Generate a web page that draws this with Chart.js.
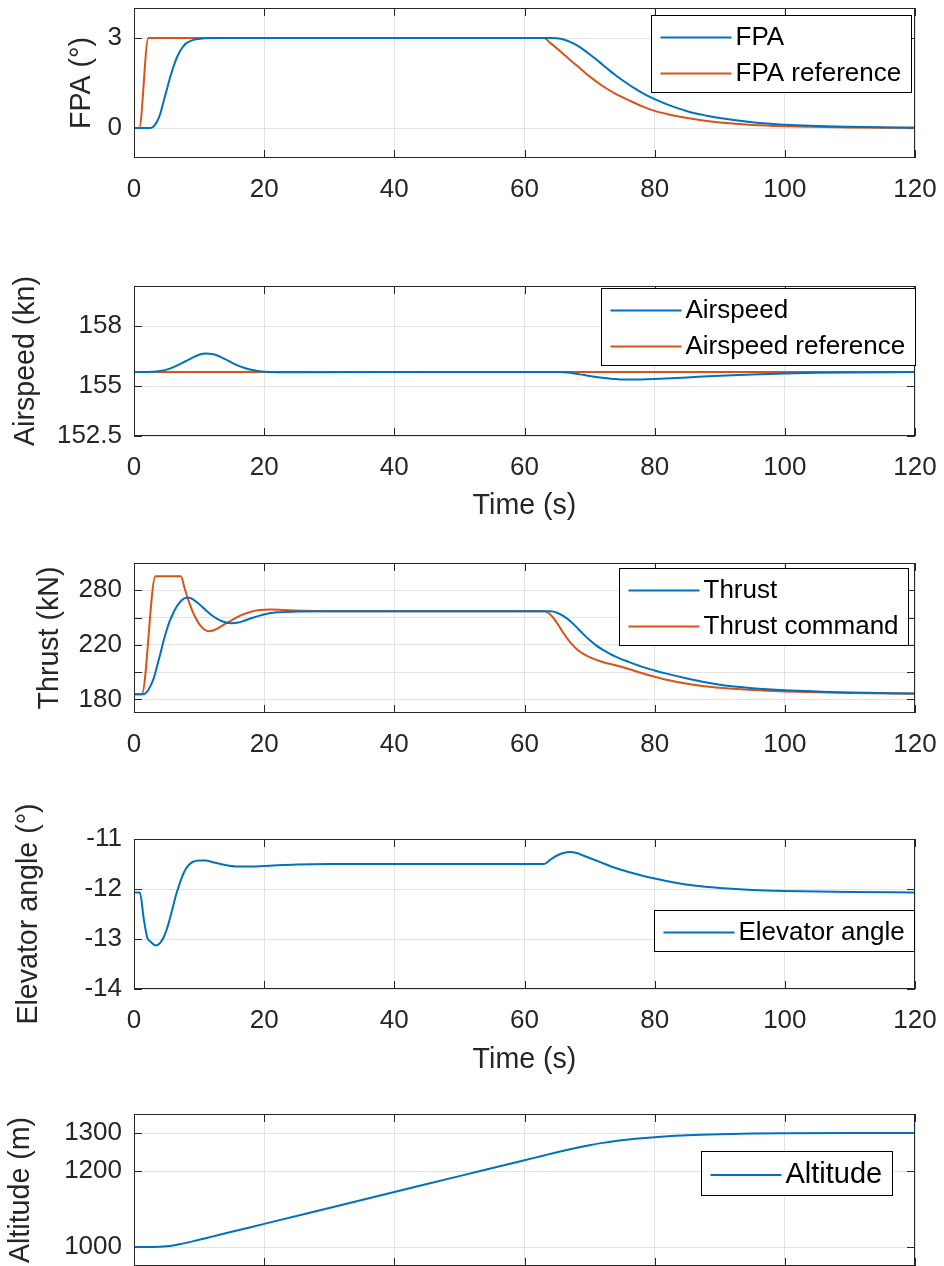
<!DOCTYPE html>
<html lang="en">
<head>
<meta charset="UTF-8">
<title>Climb response</title>
<script src="https://cdn.jsdelivr.net/npm/chart.js"></script>
<style>
  html, body { margin: 0; padding: 0; background: #fff; overflow: hidden; }
  body { width: 944px; height: 1266px; position: relative; }
  canvas { position: absolute; left: 0; }
</style>
</head>
<body>
<canvas id="fpaChart"></canvas>
<canvas id="speedChart"></canvas>
<canvas id="thrustChart"></canvas>
<canvas id="elevChart"></canvas>
<canvas id="altChart"></canvas>

<script>
// shared time axis
const timeTicks = [0, 20, 40, 60, 80, 100, 120];

// flight path angle (deg)
const fpaTime = [0, 2.5, 3, 3.5, 4, 4.5, 5, 5.5, 6, 6.5, 7, 7.5, 8, 9, 10, 11, 13,
  64, 65, 66, 67, 68, 69, 70, 71, 72, 73, 74, 75, 76, 77, 78, 80, 82, 85, 88, 90, 95, 100, 110, 120];
const fpaValues = [0, 0, 0.05, 0.2, 0.45, 0.85, 1.25, 1.65, 2.0, 2.3, 2.53, 2.7, 2.82, 2.93, 2.97, 2.99, 3,
  3, 2.99, 2.95, 2.87, 2.76, 2.62, 2.46, 2.29, 2.11, 1.93, 1.76, 1.6, 1.45, 1.31, 1.18, 0.96, 0.78, 0.56, 0.41, 0.33, 0.19, 0.11, 0.04, 0.01];
const fpaRefTime = [0, 0.8, 2.2, 63, 64, 65, 66, 67, 68, 70, 72, 74, 76, 78, 80, 82, 85, 88, 90, 95, 100, 110, 120];
const fpaRefValues = [0, 0, 3, 3, 2.83, 2.65, 2.46, 2.27, 2.09, 1.72, 1.4, 1.14, 0.93, 0.73, 0.57, 0.46, 0.33, 0.23, 0.18, 0.1, 0.06, 0.02, 0.01];
const fpaTicks = [0, 3];

// airspeed (kn)
const speedTime = [0, 3, 4, 5, 6, 7, 8, 9, 10, 11, 12, 13, 14, 15, 16, 17, 18, 19, 20, 22, 25,
  65, 66, 67, 68, 69, 70, 71, 72, 73, 74, 75, 76, 77, 78, 80, 85, 90, 95, 100, 105, 110, 120];
const speedValues = [155.7, 155.71, 155.75, 155.82, 155.93, 156.08, 156.25, 156.42, 156.56, 156.63, 156.6, 156.5, 156.34, 156.17, 156.02, 155.9, 155.81, 155.75, 155.71, 155.69, 155.69,
  155.7, 155.69, 155.66, 155.61, 155.56, 155.5, 155.45, 155.41, 155.37, 155.35, 155.33, 155.32, 155.32, 155.33, 155.35, 155.43, 155.51, 155.57, 155.62, 155.66, 155.68, 155.7];
const speedRefTime = [0, 120];
const speedRefValues = [155.7, 155.7];
const speedTicks = [152.5, 155, 158];

// thrust (kN)
const thrustTime = [0, 1.4, 2, 2.5, 3, 3.5, 4, 4.5, 5, 5.5, 6, 6.5, 7, 7.5, 8, 8.5, 9, 10, 11, 12, 13, 14, 15, 16, 17, 18, 20, 22, 25, 30,
  64, 65, 66, 67, 68, 69, 70, 71, 72, 73, 74, 76, 78, 80, 82, 85, 88, 90, 95, 100, 110, 120];
const thrustValues = [183.7, 183.7, 185.5, 189.5, 195, 203.5, 212.5, 222, 230.5, 237.5, 243, 247.5, 251, 253.3, 254.5, 254.5, 253.5, 250, 245.5, 241.5, 238.5, 236.5, 235.8, 236.3, 237.8, 239.5, 242.3, 243.8, 244.4, 244.6,
  244.6, 243.5, 241, 237.5, 233, 228, 223.5, 219.6, 216.5, 213.8, 211.4, 207.5, 204, 201.2, 198.7, 195.3, 192.3, 190.7, 188.2, 186.7, 185.1, 184.3];
const thrustCmdTime = [0, 1.2, 3.3, 7.2, 7.8, 8.4, 9, 9.6, 10.2, 10.8, 11.4, 12, 13, 14, 15, 16, 17, 18, 19, 20, 21, 23, 26, 30,
  63, 64, 65, 66, 67, 68, 69, 70, 72, 74, 76, 78, 80, 82, 85, 88, 90, 95, 100, 110, 120];
const thrustCmdValues = [183.7, 183.7, 270.3, 270.3, 261, 252, 244.5, 238.5, 234, 231.2, 230, 230.3, 232.5, 235.3, 238, 240.6, 242.7, 244.3, 245.3, 245.8, 245.9, 245.5, 244.9, 244.6,
  244.6, 242, 236, 228.5, 222, 217, 213.5, 211, 207.4, 205, 202.3, 199.3, 196.6, 194.2, 191.4, 189.4, 188.5, 186.8, 185.8, 184.7, 184.2];
const thrustTicks = [180, 200, 220, 240, 260];
const thrustTickLabels = ['180', '', '220', '', '280'];

// elevator deflection (deg)
const elevTime = [0, 0.9, 1.5, 2.05, 2.5, 3.4, 4.0, 4.5, 5.0, 5.5, 6.0, 6.5, 7.0, 7.5, 8, 8.5, 9, 10, 11, 12, 14, 16, 18, 20, 25, 30,
  63, 64, 65, 66, 67, 68, 69, 70, 72, 74, 76, 78, 80, 83, 86, 90, 95, 100, 110, 120];
const elevValues = [-12.07, -12.07, -12.6, -12.98, -13.05, -13.13, -13.08, -12.98, -12.82, -12.6, -12.35, -12.1, -11.9, -11.72, -11.59, -11.51, -11.46, -11.43, -11.43, -11.46, -11.52, -11.55, -11.55, -11.54, -11.51, -11.5,
  -11.5, -11.41, -11.33, -11.28, -11.26, -11.28, -11.33, -11.38, -11.48, -11.58, -11.66, -11.73, -11.79, -11.87, -11.93, -11.98, -12.02, -12.04, -12.06, -12.07];
const elevTicks = [-14, -13, -12, -11];

// altitude (m)
const altTime = [0, 3, 4, 5, 6, 7, 8, 9, 10, 12, 15, 20, 30, 40, 50, 60, 63, 65, 67, 70, 72, 74, 76, 78, 80, 85, 90, 95, 100, 110, 120];
const altValues = [1000, 1000, 1000.4, 1001.7, 1003.9, 1007.1, 1010.8, 1014.8, 1018.9, 1027.3, 1039.9, 1060.8, 1102.7, 1144.6, 1186.5, 1228.4, 1241, 1249.3, 1257.3, 1268, 1274, 1279, 1283, 1286.3, 1289, 1293.8, 1296.7, 1298.4, 1299.3, 1299.9, 1300];
const altTicks = [1000, 1200, 1300];

const BLUE = '#0072BD';
const ORANGE = '#D95319';
const INK = '#262626';
const GRID = '#e3e3e3';
const FONT = "'Liberation Sans', Arial, Helvetica, sans-serif";

// box, inward tick marks, rotated y label and an in-axes legend
const matlabAxes = {
  id: 'matlabAxes',
  beforeDatasetsDraw(chart) {
    const { ctx, chartArea: a, scales: { x, y } } = chart;
    ctx.save();
    ctx.strokeStyle = INK;
    ctx.lineWidth = 1;
    ctx.beginPath();
    x.ticks.forEach(t => {
      const px = Math.round(x.getPixelForValue(t.value)) + 0.5;
      ctx.moveTo(px, a.bottom); ctx.lineTo(px, a.bottom - 8);
      ctx.moveTo(px, a.top); ctx.lineTo(px, a.top + 8);
    });
    y.ticks.forEach(t => {
      const py = Math.round(y.getPixelForValue(t.value)) + 0.5;
      ctx.moveTo(a.left, py); ctx.lineTo(a.left + 8, py);
      ctx.moveTo(a.right, py); ctx.lineTo(a.right - 8, py);
    });
    ctx.stroke();
    ctx.restore();
  },
  afterDatasetsDraw(chart) {
    const { ctx, chartArea: a } = chart;
    ctx.save();
    ctx.strokeStyle = INK;
    ctx.lineWidth = 1;
    ctx.strokeRect(a.left + 0.5, a.top + 0.5, a.right - a.left - 1, a.bottom - a.top - 1);
    ctx.restore();
  },
  afterDraw(chart, args, opts) {
    const { ctx, chartArea: a } = chart;
    ctx.save();
    ctx.fillStyle = INK;
    ctx.font = '28.6px ' + FONT;
    ctx.textAlign = 'center';
    ctx.textBaseline = 'middle';
    ctx.translate(opts.yTitleX, (a.top + a.bottom) / 2);
    ctx.rotate(-Math.PI / 2);
    ctx.fillText(opts.yTitle, 0, 0);
    ctx.restore();

    const items = chart.data.datasets;
    const fs = opts.legendFont || 26;
    ctx.save();
    ctx.font = fs + 'px ' + FONT;
    const textW = Math.max(...items.map(d => ctx.measureText(d.label).width));
    const bx = opts.legendX + 0.5;
    const by = Math.round(a.top + opts.legendDy) + 0.5;
    const bw = Math.round(84 + textW + 10);
    const bh = items.length * 36 + 5 + (fs - 26);
    ctx.fillStyle = '#fff';
    ctx.fillRect(bx, by, bw, bh);
    ctx.strokeStyle = '#000';
    ctx.lineWidth = 1;
    ctx.strokeRect(bx, by, bw, bh);
    items.forEach((d, i) => {
      const cy = by + 22 + (fs - 26) / 2 + 36 * i;
      ctx.strokeStyle = d.borderColor;
      ctx.lineWidth = 2;
      ctx.beginPath();
      ctx.moveTo(bx + 9, cy);
      ctx.lineTo(bx + 80, cy);
      ctx.stroke();
      ctx.fillStyle = '#000';
      ctx.textAlign = 'left';
      ctx.textBaseline = 'middle';
      ctx.fillText(d.label, bx + 84, cy);
    });
    ctx.restore();
  }
};

function series(label, t, v, color) {
  return {
    label,
    data: t.map((x, i) => ({ x, y: v[i] })),
    borderColor: color,
    backgroundColor: color,
    borderWidth: 2,
    pointRadius: 0,
    cubicInterpolationMode: 'monotone',
    fill: false
  };
}

function makePanel(cfg) {
  const padTop = 40;
  const canvas = document.getElementById(cfg.id);
  canvas.width = 944;
  canvas.height = padTop + (cfg.bottom - cfg.top) + cfg.axisH;
  canvas.style.top = (cfg.top - padTop) + 'px';
  const tickFont = { family: FONT, size: 26 };
  return new Chart(canvas, {
    type: 'line',
    data: { datasets: cfg.datasets },
    options: {
      responsive: false,
      animation: false,
      events: [],
      layout: { padding: { top: padTop, right: 944 - 915, left: 0, bottom: 0 } },
      scales: {
        x: {
          type: 'linear',
          min: 0,
          max: 120,
          afterBuildTicks: s => { s.ticks = timeTicks.map(v => ({ value: v })); },
          afterFit: s => { s.height = cfg.axisH; s.paddingLeft = 0; s.paddingRight = 0; },
          ticks: { font: tickFont, color: INK, padding: 16, maxRotation: 0, autoSkip: false },
          grid: { color: GRID, lineWidth: 1, drawTicks: false },
          border: { display: false },
          title: {
            display: !!cfg.xTitle,
            text: cfg.xTitle || '',
            color: INK,
            font: { family: FONT, size: 28.6 },
            padding: 0
          }
        },
        y: {
          type: 'linear',
          min: cfg.yMin,
          max: cfg.yMax,
          afterBuildTicks: s => { s.ticks = cfg.yTicks.map(v => ({ value: v })); },
          afterFit: s => { s.width = 134; s.paddingTop = 0; s.paddingBottom = 0; },
          ticks: {
            font: tickFont,
            color: INK,
            padding: 12,
            callback: (v, i) => cfg.yLabels ? cfg.yLabels[i] : String(v)
          },
          grid: { color: GRID, lineWidth: 1, drawTicks: false },
          border: { display: false }
        }
      },
      plugins: {
        legend: { display: false },
        tooltip: { enabled: false },
        matlabAxes: {
          yTitle: cfg.yTitle,
          yTitleX: cfg.yTitleX,
          legendX: cfg.legendX,
          legendDy: cfg.legendDy,
          legendFont: cfg.legendFont
        }
      }
    },
    plugins: [matlabAxes]
  });
}

makePanel({
  id: 'fpaChart', top: 8, bottom: 158, axisH: 60,
  yMin: -1, yMax: 4, yTicks: fpaTicks,
  yTitle: 'FPA (°)', yTitleX: 82,
  legendX: 651, legendDy: 7,
  datasets: [
    series('FPA', fpaTime, fpaValues, BLUE),
    series('FPA reference', fpaRefTime, fpaRefValues, ORANGE)
  ]
});

makePanel({
  id: 'speedChart', top: 286, bottom: 436, axisH: 87, xTitle: 'Time (s)',
  yMin: 152.5, yMax: 160, yTicks: speedTicks,
  yTitle: 'Airspeed (kn)', yTitleX: 26,
  legendX: 601, legendDy: 2,
  datasets: [
    series('Airspeed', speedTime, speedValues, BLUE),
    series('Airspeed reference', speedRefTime, speedRefValues, ORANGE)
  ]
});

makePanel({
  id: 'thrustChart', top: 563, bottom: 713, axisH: 60,
  yMin: 170, yMax: 280, yTicks: thrustTicks, yLabels: thrustTickLabels,
  yTitle: 'Thrust (kN)', yTitleX: 50,
  legendX: 619, legendDy: 5,
  datasets: [
    series('Thrust', thrustTime, thrustValues, BLUE),
    series('Thrust command', thrustCmdTime, thrustCmdValues, ORANGE)
  ]
});

makePanel({
  id: 'elevChart', top: 839, bottom: 989, axisH: 88, xTitle: 'Time (s)',
  yMin: -14, yMax: -11, yTicks: elevTicks,
  yTitle: 'Elevator angle (°)', yTitleX: 29,
  legendX: 654, legendDy: 71,
  datasets: [
    series('Elevator angle', elevTime, elevValues, BLUE)
  ]
});

makePanel({
  id: 'altChart', top: 1114, bottom: 1266, axisH: 60,
  yMin: 950, yMax: 1350, yTicks: altTicks,
  yTitle: 'Altitude (m)', yTitleX: 21,
  legendX: 701, legendDy: 37, legendFont: 29,
  datasets: [
    series('Altitude', altTime, altValues, BLUE)
  ]
});
</script>
</body>
</html>
